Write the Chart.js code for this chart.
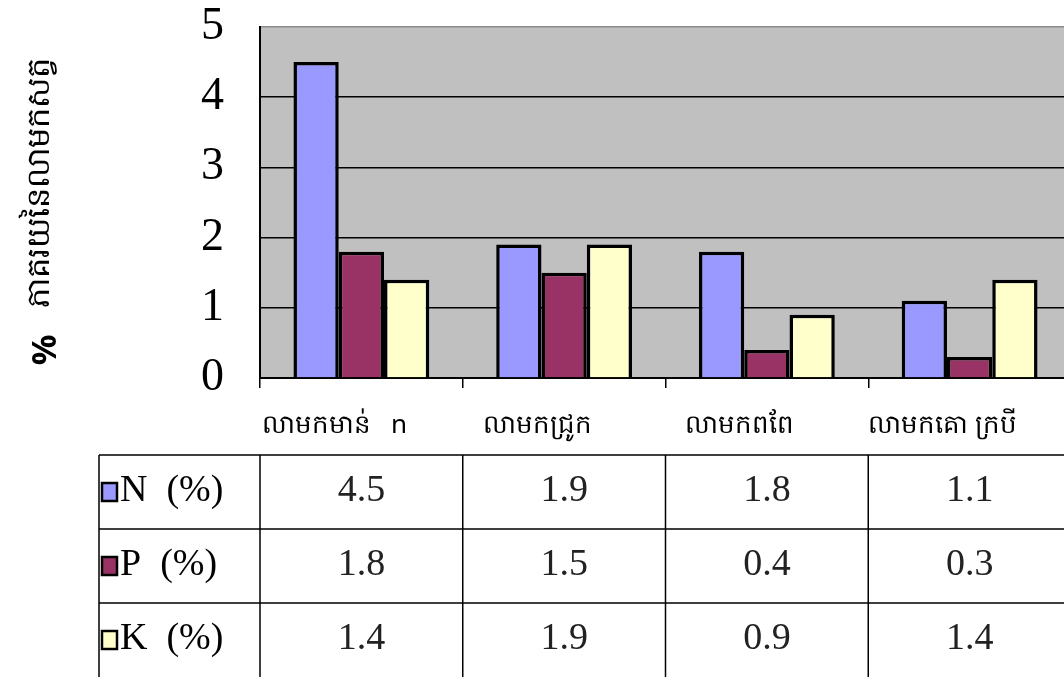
<!DOCTYPE html>
<html>
<head>
<meta charset="utf-8">
<script src="https://cdn.jsdelivr.net/npm/chart.js@4.4.0/dist/chart.umd.min.js"></script>
<style>
html, body { margin: 0; padding: 0; background: #fff; overflow: hidden; }
canvas { display: block; }
</style>
</head>
<body>
<canvas id="chart" width="1080" height="677"></canvas>
<script>
const categories = ['លាមកមាន់   n', 'លាមកជ្រូក', 'លាមកពពែ', 'លាមកគោ ក្របី'];
const seriesNames = ['N  (%)', 'P  (%)', 'K  (%)'];
const nValues = [4.5, 1.9, 1.8, 1.1];
const pValues = [1.8, 1.5, 0.4, 0.3];
const kValues = [1.4, 1.9, 0.9, 1.4];
const seriesColors = ['#9999FF', '#993366', '#FFFFCC'];
const yTitle = 'ភាគរយនៃលាមកសត្វ';
const yUnit = '%';

const serif = '"Liberation Serif", "Times New Roman", serif';

// grey plot background
const plotBackground = {
    id: 'plotBackground',
    beforeDraw(chart) {
        const a = chart.chartArea;
        const ctx = chart.ctx;
        ctx.save();
        ctx.fillStyle = '#C0C0C0';
        ctx.fillRect(a.left, a.top, a.right - a.left, a.bottom - a.top);
        ctx.restore();
    }
};

// rotated axis title + the data table under the chart
const extras = {
    id: 'extras',
    afterDraw(chart) {
        const ctx = chart.ctx;
        const x = chart.scales.x;
        const sets = chart.data.datasets;

        ctx.save();
        ctx.fillStyle = '#000';
        ctx.textAlign = 'center';
        ctx.textBaseline = 'middle';
        ctx.translate(40, 183);
        ctx.rotate(-Math.PI / 2);
        ctx.font = '32px "Noto Sans", sans-serif';
        ctx.fillText(yTitle, 0, 0);
        ctx.restore();

        ctx.save();
        ctx.fillStyle = '#000';
        ctx.textAlign = 'center';
        ctx.textBaseline = 'middle';
        ctx.translate(46, 350);
        ctx.rotate(-Math.PI / 2);
        ctx.font = 'bold 34px "Noto Sans", sans-serif';
        ctx.fillText(yUnit, 0, 0);
        ctx.restore();

        // table
        const step = x.getPixelForTick(1) - x.getPixelForTick(0);
        const tableLeft = 99;
        const tableTop = 455;
        const rowH = 74;
        const edges = [tableLeft];
        for (let i = 0; i < x.ticks.length; i++) {
            edges.push(x.getPixelForTick(i) - step / 2);
        }
        edges.push(x.getPixelForTick(x.ticks.length - 1) + step / 2);
        const right = edges[edges.length - 1];
        const bottom = chart.height;

        ctx.save();
        ctx.strokeStyle = '#000';
        ctx.lineWidth = 1.5;
        ctx.beginPath();
        for (let r = 0; r < sets.length; r++) {
            const y = tableTop + r * rowH;
            ctx.moveTo(tableLeft, y);
            ctx.lineTo(right, y);
        }
        edges.forEach(e => {
            ctx.moveTo(e, tableTop);
            ctx.lineTo(e, bottom);
        });
        ctx.stroke();

        ctx.textBaseline = 'middle';
        sets.forEach((ds, r) => {
            const cy = tableTop + r * rowH + 36;
            // legend key
            ctx.fillStyle = ds.backgroundColor;
            ctx.fillRect(102, cy - 8, 15, 18);
            ctx.lineWidth = 2.5;
            ctx.strokeRect(102, cy - 8, 15, 18);
            ctx.fillStyle = '#000';
            ctx.textAlign = 'left';
            ctx.font = '38px ' + serif;
            ctx.fillText(ds.label, 120, cy);
            // values
            ctx.fillStyle = '#222';
            ctx.textAlign = 'center';
            ctx.font = '38px ' + serif;
            ds.data.forEach((v, i) => {
                ctx.fillText(v.toFixed(1), x.getPixelForTick(i), cy);
            });
        });
        ctx.restore();
    }
};

const ctx = document.getElementById('chart');

new Chart(ctx, {
    type: 'bar',
    data: {
        labels: categories,
        datasets: [
            { label: seriesNames[0], data: nValues, backgroundColor: seriesColors[0] },
            { label: seriesNames[1], data: pValues, backgroundColor: seriesColors[1] },
            { label: seriesNames[2], data: kValues, backgroundColor: seriesColors[2] }
        ].map(d => Object.assign(d, {
            borderColor: '#000',
            borderWidth: 3.5,
            borderSkipped: 'start',
            barPercentage: 1,
            categoryPercentage: 0.67
        }))
    },
    options: {
        responsive: false,
        animation: false,
        layout: { padding: { top: 27, right: 9, left: 0, bottom: 0 } },
        plugins: {
            legend: { display: false },
            tooltip: { enabled: false }
        },
        scales: {
            x: {
                grid: {
                    display: true,
                    drawOnChartArea: false,
                    color: '#000',
                    tickLength: 10,
                    lineWidth: 1.5
                },
                border: { color: '#000', width: 2 },
                ticks: {
                    color: '#000',
                    font: { family: '"Noto Sans", sans-serif', size: 26 },
                    padding: 22,
                    labelOffset: -27,
                    maxRotation: 0,
                    autoSkip: false
                },
                afterFit(scale) {
                    scale.height = 299;
                    scale.paddingLeft = 0;
                    scale.paddingRight = 0;
                }
            },
            y: {
                min: 0,
                max: 5,
                grid: {
                    color: c => c.tick.value === 5 ? '#8a8a8a' : '#000',
                    lineWidth: 1.5,
                    drawTicks: false
                },
                border: { color: '#000', width: 2 },
                ticks: {
                    stepSize: 1,
                    color: '#000',
                    padding: 36,
                    font: { family: serif, size: 46 }
                },
                afterFit(scale) {
                    scale.width = 260;
                    scale.paddingTop = 0;
                    scale.paddingBottom = 0;
                }
            }
        }
    },
    plugins: [plotBackground, extras]
});
</script>
</body>
</html>
